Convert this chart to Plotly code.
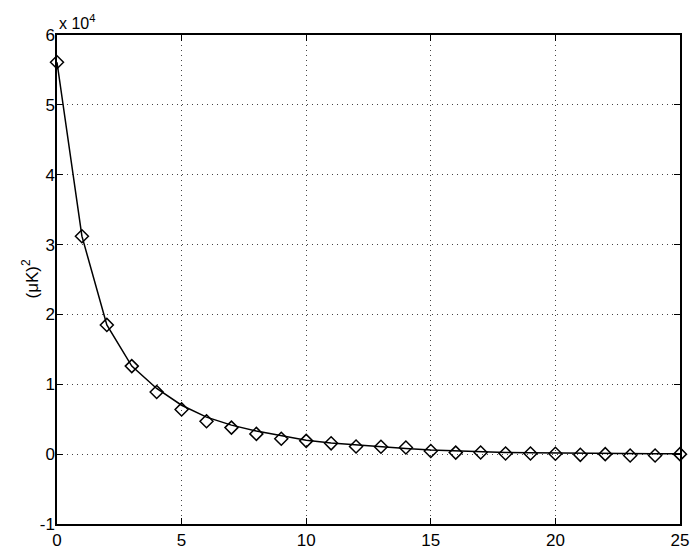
import plotly.graph_objects as go

# data (values in (uK)^2)
x_vals = list(range(26))
measured = [56100, 31200, 18500, 12600, 8900, 6400, 4700, 3800, 2900, 2200,
            1900, 1550, 1100, 1050, 960, 450, 220, 240, 100, 100,
            50, -100, 0, -200, -200, 0]
model = [56100, 31200, 18500, 12600, 9400, 7000, 5300, 4150, 3300, 2600,
         2000, 1600, 1300, 1050, 800, 600, 450, 300, 250, 200,
         150, 120, 100, 80, 50, 40]
x_ticks = [0, 5, 10, 15, 20, 25]
y_ticks = [-10000, 0, 10000, 20000, 30000, 40000, 50000, 60000]
y_tick_labels = ["-1", "0", "1", "2", "3", "4", "5", "6"]

FONT = "Liberation Sans, Arial, sans-serif"

fig = go.Figure()
fig.add_trace(go.Scatter(x=x_vals, y=model, mode="lines",
                         line=dict(color="black", width=1.5), showlegend=False))
fig.add_trace(go.Scatter(x=x_vals, y=measured, mode="markers",
                         marker=dict(symbol="diamond-open", size=10,
                                     color="black", line=dict(width=1.5)),
                         showlegend=False, cliponaxis=False))

axis_common = dict(showline=True, linecolor="black", linewidth=1.5, mirror="ticks",
                   ticks="inside", ticklen=6, tickwidth=1, tickcolor="black",
                   showgrid=True, gridcolor="#444444", griddash="1px,4px", gridwidth=1,
                   zeroline=False, automargin=False,
                   tickfont=dict(family=FONT, size=17, color="black"))

fig.update_xaxes(range=[0, 25], tickvals=x_ticks, **axis_common)
fig.update_yaxes(range=[-10000, 60000], tickvals=y_ticks, ticktext=y_tick_labels,
                 ticklabelstandoff=-3, **axis_common)

fig.add_annotation(text="(μK)<sup>2</sup>", xref="paper", yref="paper", x=0, y=0.5,
                   xanchor="center", yanchor="middle", showarrow=False, xshift=-27,
                   textangle=-90, font=dict(family=FONT, size=17, color="black"))

fig.add_annotation(text="x 10<sup>4</sup>", xref="paper", yref="paper", x=0, y=1,
                   xanchor="left", yanchor="bottom", showarrow=False, yshift=1,
                   font=dict(family=FONT, size=16, color="black"))

fig.update_layout(width=695, height=553, margin=dict(l=57, r=15, t=35, b=29),
                  plot_bgcolor="white", paper_bgcolor="white")

fig.write_html("out.html", config={"displayModeBar": False},
               post_script="document.body.style.margin='0';document.body.style.overflow='hidden';")
